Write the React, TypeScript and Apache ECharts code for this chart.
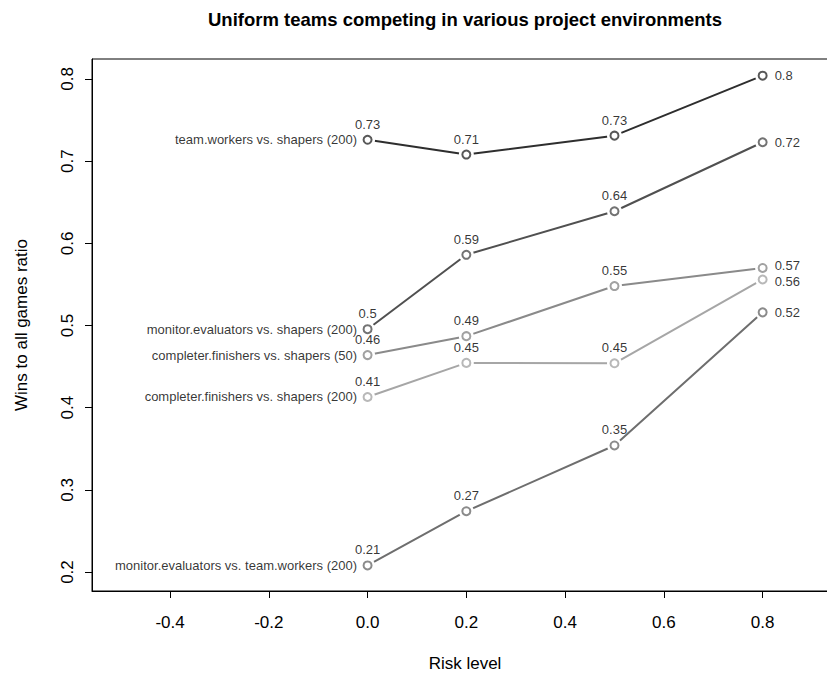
import React, { useEffect, useRef } from "react";
import * as echarts from "echarts";

const riskLevels = [0, 0.2, 0.5, 0.8];
const seriesNames = [
  "team.workers vs. shapers (200)",
  "monitor.evaluators vs. shapers (200)",
  "completer.finishers vs. shapers (50)",
  "completer.finishers vs. shapers (200)",
  "monitor.evaluators vs. team.workers (200)",
];
const teamWorkersVsShapers = [0.726, 0.708, 0.731, 0.804];
const monitorVsShapers = [0.4955, 0.586, 0.639, 0.723];
const completer50VsShapers = [0.464, 0.487, 0.548, 0.57];
const completer200VsShapers = [0.413, 0.4545, 0.454, 0.556];
const monitorVsTeamWorkers = [0.208, 0.274, 0.354, 0.516];
const xTicks = [-0.4, -0.2, 0, 0.2, 0.4, 0.6, 0.8];
const yTicks = [0.2, 0.3, 0.4, 0.5, 0.6, 0.7, 0.8];

const allValues = [
  teamWorkersVsShapers,
  monitorVsShapers,
  completer50VsShapers,
  completer200VsShapers,
  monitorVsTeamWorkers,
];
const colors = ["#2e2e2e", "#505050", "#8a8a8a", "#a6a6a6", "#6e6e6e"];
// small vertical nudges for end labels that sit very close together
const endLabelNudge = [0, 0, -2, 2, 0];

const FONT = "Liberation Sans, Arial, Helvetica, sans-serif";
const fmt = (v: number) => String(Math.round(v * 100) / 100);

export default function App() {
  const ref = useRef<HTMLDivElement>(null);
  useEffect(() => {
    if (!ref.current) return;
    const chart = echarts.init(ref.current, null, { renderer: "svg" });
    const series: any[] = [];
    allValues.forEach((vals, i) => {
      const pts = vals.map((v, j) => [riskLevels[j], v]);
      series.push({
        type: "line",
        name: seriesNames[i],
        data: pts,
        showSymbol: false,
        symbol: "none",
        lineStyle: { color: colors[i], width: 2 },
        z: 2,
        silent: true,
      });
      series.push({
        type: "scatter",
        data: pts,
        symbol: "circle",
        symbolSize: 15,
        itemStyle: { color: "#ffffff", opacity: 1 },
        z: 3,
        silent: true,
      });
    });
    allValues.forEach((vals, i) => {
      const pts = vals.map((v, j) => ({
        value: [riskLevels[j], v],
        label:
          j === vals.length - 1
            ? { position: "right", distance: 7, offset: [0, endLabelNudge[i]] }
            : { position: "top", distance: 5 },
      }));
      series.push({
        type: "scatter",
        data: pts,
        symbol: "circle",
        symbolSize: 8,
        itemStyle: { color: "#ffffff", borderColor: colors[i], borderWidth: 2 },
        label: {
          show: true,
          color: "#000",
          fontFamily: FONT,
          fontSize: 13,
          lineHeight: 11,
          formatter: (p: any) => fmt(p.value[1]),
        },
        z: 4,
        silent: true,
      });
      series.push({
        type: "scatter",
        data: [[riskLevels[0], vals[0]]],
        symbol: "circle",
        symbolSize: 1,
        itemStyle: { color: "rgba(0,0,0,0)" },
        label: {
          show: true,
          position: "left",
          distance: 10,
          color: "#000",
          fontFamily: FONT,
          fontSize: 13,
          formatter: seriesNames[i],
        },
        z: 4,
        silent: true,
      });
    });

    chart.setOption({
      animation: false,
      backgroundColor: "#ffffff",
      textStyle: { fontFamily: FONT },
      graphic: [
        {
          type: "text",
          x: 465,
          y: 19,
          style: {
            text: "Uniform teams competing in various project environments",
            fontFamily: FONT,
            fontWeight: "bold",
            fontSize: 18.5,
            fill: "#000",
            textAlign: "center",
            textVerticalAlign: "middle",
          },
        },
      ],
      grid: {
        left: 92,
        top: 59,
        right: -11,
        bottom: 82,
        show: true,
        borderColor: "#000",
        borderWidth: 1,
        backgroundColor: "transparent",
        outerBoundsMode: "none",
        containLabel: false,
      },
      xAxis: {
        type: "value",
        min: -0.558,
        max: 0.9526,
        name: "Risk level",
        nameLocation: "middle",
        nameGap: 64,
        nameTextStyle: { fontFamily: FONT, fontSize: 17, color: "#000" },
        axisLine: { show: true, onZero: false, lineStyle: { color: "#000", width: 1 } },
        splitLine: { show: false },
        axisTick: {
          show: true,
          length: 7,
          inside: false,
          customValues: xTicks,
          lineStyle: { color: "#000" },
        },
        axisLabel: {
          show: true,
          customValues: xTicks,
          margin: 23,
          fontFamily: FONT,
          fontSize: 17,
          color: "#000",
          formatter: (v: number) => v.toFixed(1),
        },
      },
      yAxis: {
        type: "value",
        min: 0.1769,
        max: 0.8243,
        name: "Wins to all games ratio",
        nameLocation: "middle",
        nameGap: 62,
        nameRotate: 90,
        nameTextStyle: { fontFamily: FONT, fontSize: 17, color: "#000" },
        axisLine: { show: true, onZero: false, lineStyle: { color: "#000", width: 1 } },
        splitLine: { show: false },
        axisTick: {
          show: true,
          length: 7,
          inside: false,
          customValues: yTicks,
          lineStyle: { color: "#000" },
        },
        axisLabel: {
          show: true,
          customValues: yTicks,
          rotate: 90,
          margin: 16,
          fontFamily: FONT,
          fontSize: 17,
          color: "#000",
          formatter: (v: number) => v.toFixed(1),
        },
      },
      series,
    });
    return () => chart.dispose();
  }, []);
  return (
    <div
      ref={ref}
      style={{ position: "fixed", left: 0, top: 0, width: 827, height: 673 }}
    />
  );
}
